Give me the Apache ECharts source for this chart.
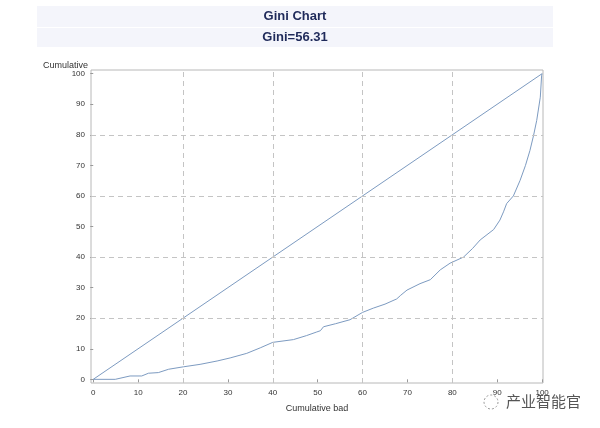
<!DOCTYPE html>
<html>
<head>
<meta charset="utf-8">
<script src="https://cdn.jsdelivr.net/npm/echarts@6/dist/echarts.min.js"></script>
<style>html,body{margin:0;padding:0;background:#fff}#c{width:600px;height:428px}</style>
</head>
<body>
<div id="c"></div>
<script>
var titleText = 'Gini Chart';
var subText = 'Gini=56.31';
var xName = 'Cumulative bad';
var yName = 'Cumulative';
var xTicks = [0, 10, 20, 30, 40, 50, 60, 70, 80, 90, 100];
var yTicks = [0, 10, 20, 30, 40, 50, 60, 70, 80, 90, 100];
var gridVals = [20, 40, 60, 80];
var diagX = [0, 100];
var diagY = [0, 100];
var curveX = [0, 4.9, 8.2, 10.8, 12.3, 14.5, 16.8, 20.1, 23.8, 27.6, 30.5, 34.2, 37.2, 40, 44.6, 47.5, 49.8, 50.6, 51.3, 54, 57.2, 60, 62.4, 65, 67.6, 68.5, 69.9, 72.8, 75.1, 77.3, 79.5, 82.5, 84.5, 86.2, 89.2, 90.6, 91.4, 92.1, 93.6, 95.1, 96.3, 97.3, 98.1, 98.8, 99.6, 99.9, 100];
var curveY = [0, 0, 1.1, 1.1, 2, 2.2, 3.3, 4.1, 4.9, 6, 7, 8.5, 10.3, 12.1, 13, 14.3, 15.5, 15.9, 17.2, 18.2, 19.5, 21.9, 23.3, 24.6, 26.3, 27.5, 29.2, 31.3, 32.6, 35.8, 38, 40, 42.8, 45.6, 49, 52.1, 54.8, 57.5, 60, 65.1, 70, 74.9, 79.8, 84.7, 92.3, 99.5, 100];
var watermark = '产业智能官';

var lineColor = '#7d9bc1';
function pairs(xs, ys){ return xs.map(function(x,i){ return [x, ys[i]]; }); }

var chart = echarts.init(document.getElementById('c'), null, {renderer:'canvas'});
var font = 'Liberation Sans, Arial, sans-serif';
chart.setOption({
  animation: false,
  backgroundColor: '#fff',
  graphic: [
    {type:'rect', shape:{x:37, y:6, width:516, height:21}, style:{fill:'#f4f5fb'}, z:-1},
    {type:'rect', shape:{x:37, y:28, width:516, height:19}, style:{fill:'#f4f5fb'}, z:-1},
    {type:'text', x:295, y:16, style:{text:titleText, fill:'#1f2a5a', font:'bold 13px ' + font, textAlign:'center', textVerticalAlign:'middle'}},
    {type:'text', x:295, y:37, style:{text:subText, fill:'#1f2a5a', font:'bold 13px ' + font, textAlign:'center', textVerticalAlign:'middle'}},
    {type:'text', x:43, y:66, style:{text:yName, fill:'#333', font:'9px ' + font, textAlign:'left', textVerticalAlign:'middle'}},
    {type:'text', x:317, y:409, style:{text:xName, fill:'#333', font:'9px ' + font, textAlign:'center', textVerticalAlign:'middle'}},
    {type:'circle', shape:{cx:491, cy:402, r:7}, style:{fill:'none', stroke:'#999', lineWidth:1, lineDash:[2,2]}},
    {type:'text', x:506, y:401, style:{text:watermark, fill:'#555', font:'15px "Noto Sans CJK SC", sans-serif', textAlign:'left', textVerticalAlign:'middle'}}
  ],
  grid: {left:91, right:57, top:70, bottom:45, show:true, borderColor:'#b8b8b8', borderWidth:1, backgroundColor:'transparent'},
  xAxis: {
    type:'value', min:-0.5, max:100.2,
    axisLine:{show:false}, splitLine:{show:false},
    axisTick:{show:true, length:3, customValues:xTicks, lineStyle:{color:'#999'}},
    axisLabel:{customValues:xTicks, color:'#333', fontSize:8, fontFamily:font, margin:6}
  },
  yAxis: {
    type:'value', min:-1.2, max:101.2,
    axisLine:{show:false}, splitLine:{show:false},
    axisTick:{show:true, length:3, customValues:yTicks, lineStyle:{color:'#999'}},
    axisLabel:{customValues:yTicks, color:'#333', fontSize:8, fontFamily:font, margin:6}
  },
  series: [
    {type:'line', data:pairs(diagX, diagY), symbol:'none', lineStyle:{color:lineColor, width:1}, silent:true,
     markLine:{silent:true, symbol:'none', label:{show:false},
       lineStyle:{color:'#c4c4c4', type:[5,4], width:1},
       data: gridVals.map(function(v){return {xAxis:v};}).concat(gridVals.map(function(v){return {yAxis:v};}))}},
    {type:'line', data:pairs(curveX, curveY), symbol:'none', lineStyle:{color:lineColor, width:1}, silent:true}
  ]
});
</script>
</body>
</html>
